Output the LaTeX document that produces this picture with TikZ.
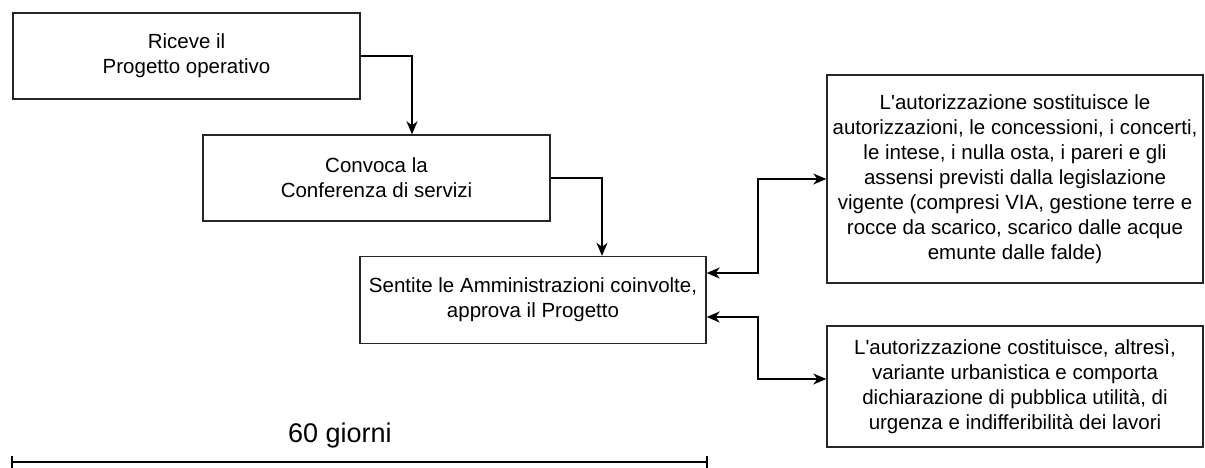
\documentclass[tikz,border=0pt]{standalone}
\usepackage{fontspec}
\setmainfont{Liberation Sans}
\newfontfamily\arialfont{Liberation Sans}
\usetikzlibrary{arrows.meta}
\begin{document}
\begin{tikzpicture}[x=1pt,y=-1pt,
  box/.style={draw=black!85, line width=1.4pt, inner sep=0pt, align=center,
    font=\arialfont\fontsize{20.5}{25}\selectfont},
  conn/.style={line width=1.3pt, -{Stealth[length=13pt,width=11pt,inset=4pt]}},
  both/.style={line width=1.3pt, {Stealth[length=13pt,width=11pt,inset=4pt]}-{Stealth[length=13pt,width=11pt,inset=4pt]}}]
\useasboundingbox (0,0) rectangle (1205,468);
\node[box, minimum width=347pt, minimum height=86pt] (b1) at (186.5,56) {Riceve il\\Progetto operativo};
\node[box, minimum width=347pt, minimum height=86pt] (b2) at (376.5,178) {Convoca la\\Conferenza di servizi};
\node[box, minimum width=346pt, minimum height=87pt] (b3) at (533,300) {Sentite le Amministrazioni coinvolte,\\approva il Progetto};
\node[box, minimum width=376pt, minimum height=208pt] (b4) at (1015,179) {L'autorizzazione sostituisce le\\autorizzazioni, le concessioni, i concerti,\\le intese, i nulla osta, i pareri e gli\\assensi previsti dalla legislazione\\vigente (compresi VIA, gestione terre e\\rocce da scarico, scarico dalle acque\\emunte dalle falde)};
\node[box, minimum width=376pt, minimum height=121pt] (b5) at (1015,386.5) {L'autorizzazione costituisce, altresì,\\variante urbanistica e comporta\\dichiarazione di pubblica utilità, di\\urgenza e indifferibilità dei lavori};
\coordinate (c1) at (412,0);
\coordinate (c2) at (602,0);
\coordinate (j3) at (758,273);
\coordinate (j4) at (758,317);
\draw[conn] (b1.east) -| (b2.north -| c1);
\draw[conn] (b2.east) -| (b3.north -| c2);
\draw[both] (b3.east |- j3) -- (j3) |- (b4.west);
\draw[both] (b3.east |- j4) -- (j4) |- (b5.west |- 0,379);
\coordinate (l1) at (12,462);
\coordinate (l2) at (707,462);
\draw[line width=1.3pt] (l1) -- (l2);
\draw[line width=1.3pt] ([yshift=-6pt]l1) -- ([yshift=6pt]l1);
\draw[line width=1.3pt] ([yshift=-6pt]l2) -- ([yshift=6pt]l2);
\node[font=\arialfont\fontsize{27}{32}\selectfont] (lab) at (340,436) {60 giorni};
\end{tikzpicture}
\end{document}
